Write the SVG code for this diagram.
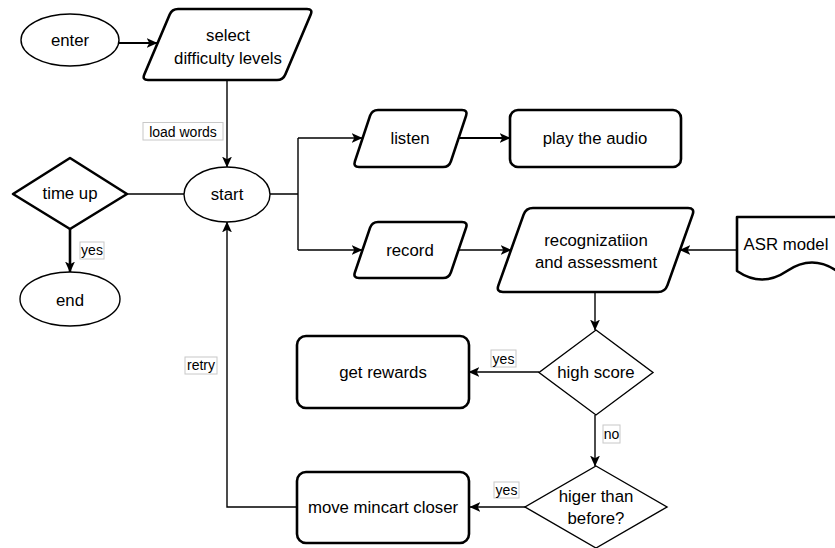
<svg xmlns="http://www.w3.org/2000/svg" width="835" height="548" viewBox="0 0 835 548">
<defs>
<marker id="arr" viewBox="0 0 10 10" refX="9.5" refY="5" markerWidth="11" markerHeight="11" markerUnits="userSpaceOnUse" orient="auto">
<path d="M0,0.5 L10,5 L0,9.5 L2.5,5 z" fill="#000"/>
</marker>
</defs>
<style>
text{font-family:"Liberation Sans",Arial,Helvetica,sans-serif;fill:#000;text-anchor:middle;dominant-baseline:central}
.t{font-size:16.8px}
.lb{font-size:14px}
.thin{fill:#fff;stroke:#000;stroke-width:1.4}
.bold{fill:#fff;stroke:#000;stroke-width:2.6;stroke-linejoin:round}
.c{fill:none;stroke:#000;stroke-width:1.4}
.lbox{fill:#fff;stroke:#c8c8c8;stroke-width:1}
</style>
<rect width="835" height="548" fill="#fff"/>
<g id="connectors">
<path class="c" style="stroke-width:2.2" d="M119,43 H157" marker-end="url(#arr)"/>
<path class="c" d="M227,80 V167" marker-end="url(#arr)"/>
<path class="c" d="M127,194 H184"/>
<path class="c" style="stroke-width:2.6" d="M70,229 V272" marker-end="url(#arr)"/>
<path class="c" d="M270,194 H298 M298,138 V250"/>
<path class="c" d="M298,138 H362" marker-end="url(#arr)"/>
<path class="c" d="M298,250 H362" marker-end="url(#arr)"/>
<path class="c" style="stroke-width:2" d="M459,138 H510" marker-end="url(#arr)"/>
<path class="c" d="M459,250 H511" marker-end="url(#arr)"/>
<path class="c" d="M737,250 H680" marker-end="url(#arr)"/>
<path class="c" d="M595,292 V330" marker-end="url(#arr)"/>
<path class="c" d="M539,372 H469" marker-end="url(#arr)"/>
<path class="c" d="M595,415 V466" marker-end="url(#arr)"/>
<path class="c" d="M525,507 H470" marker-end="url(#arr)"/>
<path class="c" d="M297,507 H227 V222" marker-end="url(#arr)"/>
<rect class="lbox" x="143" y="122.5" width="80" height="17.5"/>
<text class="lb" x="183" y="131.5">load words</text>
<rect class="lbox" x="80" y="242" width="24" height="17"/>
<text class="lb" x="92" y="250">yes</text>
<rect class="lbox" x="491" y="350" width="25" height="17"/>
<text class="lb" x="503.5" y="358.5">yes</text>
<rect class="lbox" x="603" y="425" width="17" height="18"/>
<text class="lb" x="611.5" y="433.5">no</text>
<rect class="lbox" x="494" y="482" width="25" height="16"/>
<text class="lb" x="506.5" y="489.5">yes</text>
<rect class="lbox" x="185" y="357" width="32" height="17"/>
<text class="lb" x="201" y="365">retry</text>
</g>
<g id="enter">
<ellipse class="thin" cx="70" cy="40" rx="49" ry="26"/>
<text class="t" x="70" y="40">enter</text>
</g>
<g id="select">
<path class="bold" d="M178,9 L307,9 Q313,9 310.7,14.5 L285.3,74.5 Q283,80 277,80 L148,80 Q142,80 144.3,74.5 L169.7,14.5 Q172,9 178,9 Z"/>
<text class="t" x="228" y="35">select</text>
<text class="t" x="228" y="58">difficulty levels</text>
</g>
<g id="start">
<ellipse class="thin" cx="227" cy="194.5" rx="43" ry="27.5"/>
<text class="t" x="227" y="194">start</text>
</g>
<g id="timeup">
<polygon class="bold" points="70,158 127,194 70,229 13,194"/>
<text class="t" x="70" y="193">time up</text>
</g>
<g id="end">
<ellipse class="thin" cx="70" cy="299" rx="50" ry="27"/>
<text class="t" x="70" y="300">end</text>
</g>
<g id="listen">
<path class="bold" d="M378,110 L462,110 Q468,110 466.1,115.7 L450.9,161.3 Q449,167 443,167 L359,167 Q353,167 354.9,161.3 L370.1,115.7 Q372,110 378,110 Z"/>
<text class="t" x="410" y="138">listen</text>
</g>
<g id="play">
<rect class="bold" x="510" y="110" width="171" height="57" rx="8"/>
<text class="t" x="595" y="138">play the audio</text>
</g>
<g id="record">
<path class="bold" d="M378,222 L462,222 Q468,222 466.1,227.7 L450.9,272.3 Q449,278 443,278 L359,278 Q353,278 354.9,272.3 L370.1,227.7 Q372,222 378,222 Z"/>
<text class="t" x="410" y="250">record</text>
</g>
<g id="recog">
<path class="bold" d="M533,208 L688,208 Q695,208 692.6,214.6 L667.4,285.4 Q665,292 658,292 L503,292 Q496,292 498.4,285.4 L523.6,214.6 Q526,208 533,208 Z"/>
<text class="t" x="596" y="240">recognizatiion</text>
<text class="t" x="596" y="262">and assessment</text>
</g>
<g id="asr">
<path class="bold" d="M737,217 H837 V271 Q812,254 787,271 Q762,288 737,271 Z"/>
<text class="t" x="786" y="244">ASR model</text>
</g>
<g id="highscore">
<polygon class="thin" points="596,330 653,372.5 596,415 539,372.5"/>
<text class="t" x="596" y="372">high score</text>
</g>
<g id="rewards">
<rect class="bold" x="297" y="336" width="172" height="72" rx="9"/>
<text class="t" x="383" y="372">get rewards</text>
</g>
<g id="higer">
<polygon class="thin" points="596,466 667,507 596,548 525,507"/>
<text class="t" x="596" y="496">higer than</text>
<text class="t" x="596" y="518">before?</text>
</g>
<g id="move">
<rect class="bold" x="297" y="472" width="172" height="71" rx="9"/>
<text class="t" x="383" y="507">move mincart closer</text>
</g>
</svg>
